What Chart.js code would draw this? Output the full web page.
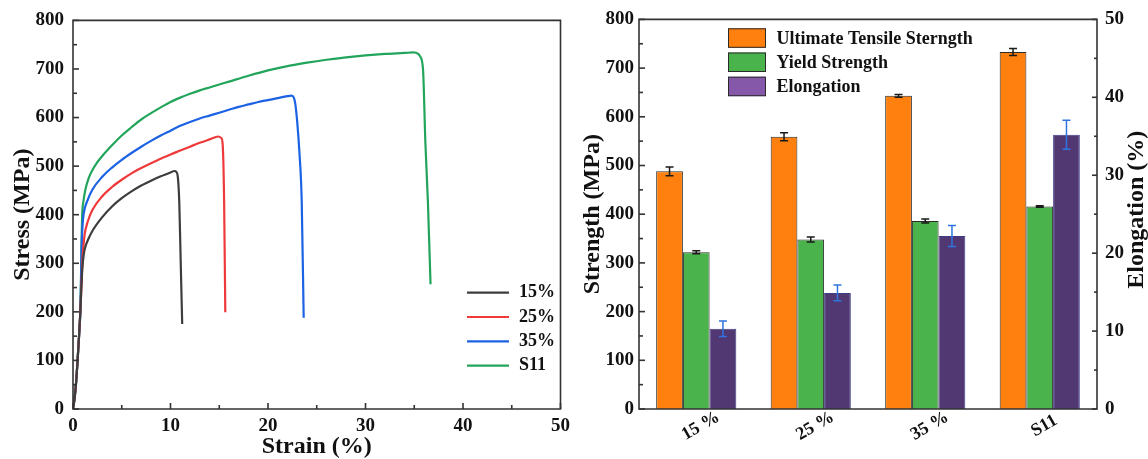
<!DOCTYPE html>
<html>
<head>
<meta charset="utf-8">
<script src="https://cdn.jsdelivr.net/npm/chart.js@4.4.1/dist/chart.umd.min.js"></script>
<style>
  html, body { margin: 0; padding: 0; background: #ffffff; width: 1148px; height: 459px; overflow: hidden; }
  #wrapL { position: absolute; left: 0; top: 0; width: 576px; height: 459px; }
  #wrapR { position: absolute; left: 575px; top: 0; width: 573px; height: 459px; }
</style>
</head>
<body>
<div id="wrapL"><canvas id="curves" width="576" height="459"></canvas></div>
<div id="wrapR"><canvas id="bars" width="573" height="459"></canvas></div>
<script>
// ---------- Stress–strain curves ----------
const strain15 = [0, 0.15, 0.3, 0.47, 0.62, 0.75, 0.86, 0.96, 1.1, 1.3, 1.6, 2, 3, 4, 5, 6, 7, 8, 9, 10, 10.4, 10.6, 10.75, 10.9, 11.05, 11.2];
const stress15 = [0, 20, 50, 100, 150, 200, 250, 290, 318, 336, 351, 367, 395, 417, 434, 448, 460, 470, 479, 487, 490, 488, 478, 426, 300, 175];

const strain25 = [0, 0.15, 0.3, 0.47, 0.62, 0.75, 0.86, 0.95, 1.05, 1.2, 1.5, 2, 3, 4, 5, 6, 7, 8, 9, 10, 11, 12, 13, 14, 14.9, 15.2, 15.35, 15.5, 15.62];
const stress25 = [0, 20, 50, 100, 150, 200, 250, 300, 330, 360, 385, 410, 438, 457, 472, 485, 496, 506, 515, 524, 532, 540, 548, 555, 561, 558, 545, 426, 199];

const strain35 = [0, 0.15, 0.3, 0.47, 0.62, 0.75, 0.82, 0.88, 0.97, 1.08, 1.5, 2, 3, 4, 5, 6, 7, 8, 9, 10, 11, 12, 13, 14, 15, 16, 17, 18, 19, 20, 21, 22, 22.4, 22.65, 22.8, 23.0, 23.22, 23.46, 23.66];
const stress35 = [0, 20, 50, 100, 150, 200, 260, 330, 375, 400, 430, 452, 478, 497, 513, 527, 540, 552, 563, 573, 583, 591, 598, 604, 610, 616, 622, 627, 632, 636, 640, 644, 645, 641, 628, 590, 529, 426, 188];

const strainS11 = [0, 0.15, 0.3, 0.47, 0.62, 0.75, 0.82, 0.88, 0.94, 1.05, 1.25, 1.6, 2, 2.5, 3, 4, 5, 6, 7, 8, 9, 10, 11, 12, 13, 14, 15, 16, 18, 20, 22, 24, 26, 28, 30, 32, 34, 34.9, 35.4, 35.6, 35.9, 36.14, 36.4, 36.67];
const stressS11 = [0, 20, 50, 100, 150, 200, 270, 350, 400, 425, 450, 475, 492, 508, 521, 543, 563, 580, 596, 609, 621, 632, 641, 649, 656, 662, 668, 674, 686, 697, 706, 713, 719, 724, 728, 731, 733, 734, 731, 726, 699, 549, 427, 257];

const curveNames = ['15%', '25%', '35%', 'S11'];
const strainTicks = [0, 10, 20, 30, 40, 50];
const stressTicks = [0, 100, 200, 300, 400, 500, 600, 700, 800];

// ---------- Strength / elongation summary ----------
const groups = ['15 %', '25 %', '35 %', 'S11'];
const seriesNames = ['Ultimate Tensile Sterngth', 'Yield Strength', 'Elongation'];
const uts = [488, 559, 643, 733];
const utsErr = [9, 8, 3, 7];
const ys = [322, 348, 386, 416];
const ysErr = [3, 5, 4, 1.5];
const elong = [10.3, 14.9, 22.2, 35.2];
const elongErr = [1.0, 1.0, 1.35, 1.85];
const strengthTicks = [0, 100, 200, 300, 400, 500, 600, 700, 800];
const elongTicks = [0, 10, 20, 30, 40, 50];

const SERIF = "'Liberation Serif', 'Times New Roman', serif";
const tickFont = { family: SERIF, size: 19, weight: 'bold' };
const titleFont = { family: SERIF, size: 24, weight: 'bold', lineHeight: 1 };
Chart.defaults.color = '#111111';
Chart.defaults.font.family = SERIF;

const pairs = (xs, ys) => xs.map((x, i) => ({ x, y: ys[i] }));
const fixTicks = list => scale => { scale.ticks = list.map(v => ({ value: v })); };

// Box frame plus inward major/minor tick marks
const frameTicks = {
  id: 'frameTicks',
  afterDraw(chart, args, o) {
    const { ctx, chartArea: a } = chart;
    ctx.save();
    ctx.strokeStyle = o.color;
    ctx.lineWidth = o.width;
    ctx.beginPath();
    ctx.rect(a.left, a.top, a.right - a.left, a.bottom - a.top);
    ctx.stroke();
    for (const spec of o.axes) {
      const s = chart.scales[spec.id];
      const vals = s.ticks.map(t => t.value);
      const minors = [];
      for (let i = 0; i + 1 < vals.length; i++) minors.push((vals[i] + vals[i + 1]) / 2);
      const mark = (list, len) => {
        list.forEach(v => {
          const p = s.getPixelForValue(v);
          ctx.beginPath();
          if (spec.side === 'bottom') { ctx.moveTo(p, a.bottom); ctx.lineTo(p, a.bottom - len); }
          else if (spec.side === 'left') { ctx.moveTo(a.left, p); ctx.lineTo(a.left + len, p); }
          else { ctx.moveTo(a.right, p); ctx.lineTo(a.right - len, p); }
          ctx.stroke();
        });
      };
      mark(vals, spec.major);
      mark(minors, spec.minor);
    }
    ctx.restore();
  }
};

// Line-sample key for the curves
const lineKey = {
  id: 'lineKey',
  afterDraw(chart, args, o) {
    if (!o.enabled) return;
    const { ctx } = chart;
    ctx.save();
    ctx.font = `bold ${o.size}px ${SERIF}`;
    ctx.textBaseline = 'middle';
    ctx.textAlign = 'left';
    chart.data.datasets.forEach((ds, i) => {
      const y = o.y + i * o.gap;
      ctx.strokeStyle = ds.borderColor;
      ctx.lineWidth = 2.2;
      ctx.beginPath();
      ctx.moveTo(o.x, y);
      ctx.lineTo(o.x + o.len, y);
      ctx.stroke();
      ctx.fillStyle = '#111';
      ctx.fillText(ds.label, o.x + o.len + o.textGap, y);
    });
    ctx.restore();
  }
};

// Filled-box key for the bars
const boxKey = {
  id: 'boxKey',
  afterDraw(chart, args, o) {
    if (!o.enabled) return;
    const { ctx } = chart;
    ctx.save();
    ctx.font = `bold ${o.size}px ${SERIF}`;
    ctx.textBaseline = 'middle';
    ctx.textAlign = 'left';
    chart.data.datasets.forEach((ds, i) => {
      const top = o.y + i * o.gap;
      ctx.fillStyle = o.fills[i];
      ctx.fillRect(o.x, top, o.w, o.h);
      ctx.strokeStyle = '#2b2b2b';
      ctx.lineWidth = 1;
      ctx.strokeRect(o.x + 0.5, top + 0.5, o.w - 1, o.h - 1);
      ctx.fillStyle = '#111';
      ctx.fillText(ds.label, o.x + o.w + o.textGap, top + o.h / 2 + 1);
    });
    ctx.restore();
  }
};

// Error bars taken from each dataset's errors array
const errorBars = {
  id: 'errorBars',
  afterDatasetsDraw(chart, args, o) {
    if (!o.enabled) return;
    const { ctx } = chart;
    ctx.save();
    ctx.lineWidth = 1.5;
    chart.data.datasets.forEach((ds, di) => {
      const meta = chart.getDatasetMeta(di);
      const sc = chart.scales[ds.yAxisID];
      ctx.strokeStyle = ds.errorColor;
      meta.data.forEach((bar, i) => {
        const v = ds.data[i], e = ds.errors[i];
        const yT = sc.getPixelForValue(v + e), yB = sc.getPixelForValue(v - e);
        const x = bar.x, c = o.cap;
        ctx.beginPath();
        ctx.moveTo(x, yT); ctx.lineTo(x, yB);
        ctx.moveTo(x - c, yT); ctx.lineTo(x + c, yT);
        ctx.moveTo(x - c, yB); ctx.lineTo(x + c, yB);
        ctx.stroke();
      });
    });
    ctx.restore();
  }
};

// Slanted category labels under the groups
const groupLabels = {
  id: 'groupLabels',
  afterDraw(chart, args, o) {
    if (!o.enabled) return;
    const { ctx } = chart;
    const s = chart.scales.x;
    ctx.save();
    ctx.font = `bold ${o.size}px ${SERIF}`;
    ctx.fillStyle = '#111';
    ctx.textAlign = 'center';
    ctx.textBaseline = 'middle';
    chart.data.labels.forEach((lab, i) => {
      ctx.save();
      ctx.translate(s.getPixelForTick(i) + o.dx, chart.chartArea.bottom + o.dy);
      ctx.rotate(-o.angle * Math.PI / 180);
      ctx.fillText(lab, 0, 0);
      ctx.restore();
    });
    ctx.restore();
  }
};

// Right-hand axis title, read bottom to top
const sideTitle = {
  id: 'sideTitle',
  afterDraw(chart, args, o) {
    if (!o.enabled) return;
    const { ctx } = chart;
    const s = chart.scales[o.axis];
    ctx.save();
    ctx.font = `bold ${o.size}px ${SERIF}`;
    ctx.fillStyle = '#111';
    ctx.textAlign = 'center';
    ctx.textBaseline = 'middle';
    ctx.translate(s.right - o.inset, (chart.chartArea.top + chart.chartArea.bottom) / 2 + o.shift);
    ctx.rotate(-Math.PI / 2);
    ctx.fillText(o.text, 0, 0);
    ctx.restore();
  }
};

Chart.register(frameTicks, lineKey, boxKey, errorBars, groupLabels, sideTitle);

const lineStyle = c => ({ borderColor: c, backgroundColor: c, borderWidth: 2.2, pointRadius: 0, cubicInterpolationMode: 'monotone', fill: false });
const plainGrid = { display: false, drawTicks: false };

new Chart(document.getElementById('curves'), {
  type: 'line',
  data: {
    datasets: [
      { label: curveNames[0], data: pairs(strain15, stress15), ...lineStyle('#3d3d3d') },
      { label: curveNames[1], data: pairs(strain25, stress25), ...lineStyle('#ee3a3a') },
      { label: curveNames[2], data: pairs(strain35, stress35), ...lineStyle('#1c62e4') },
      { label: curveNames[3], data: pairs(strainS11, stressS11), ...lineStyle('#22a55b') }
    ]
  },
  options: {
    responsive: false,
    devicePixelRatio: 1,
    animation: false,
    layout: { padding: { left: 0, top: 17, right: 10, bottom: 0 } },
    plugins: {
      legend: { display: false },
      tooltip: { enabled: false },
      frameTicks: {
        color: '#333', width: 1.6,
        axes: [ { id: 'x', side: 'bottom', major: 6, minor: 4 }, { id: 'y', side: 'left', major: 6, minor: 4 } ]
      },
      lineKey: { enabled: true, x: 467, y: 292.7, gap: 24.3, len: 42, textGap: 10, size: 18 }
    },
    scales: {
      x: {
        type: 'linear', min: 0, max: 50,
        afterBuildTicks: fixTicks(strainTicks),
        afterFit: s => { s.height = 50; },
        grid: plainGrid, border: { display: false },
        ticks: { font: tickFont, padding: 6, maxRotation: 0 },
        title: { display: true, text: 'Strain (%)', font: titleFont, padding: { top: 0, bottom: 0 } }
      },
      y: {
        type: 'linear', min: 0, max: 800,
        afterBuildTicks: fixTicks(stressTicks),
        afterFit: s => { s.width = 73; },
        grid: plainGrid, border: { display: false },
        ticks: { font: tickFont, padding: 9 },
        title: { display: true, text: 'Stress (MPa)', font: titleFont, padding: { top: 11, bottom: 0 } }
      }
    }
  }
});

new Chart(document.getElementById('bars'), {
  type: 'bar',
  data: {
    labels: groups,
    datasets: [
      { label: seriesNames[0], data: uts, errors: utsErr, yAxisID: 'y', backgroundColor: '#ff800e', borderColor: '#2b2b2b', borderWidth: 1, errorColor: '#1a1a1a' },
      { label: seriesNames[1], data: ys, errors: ysErr, yAxisID: 'y', backgroundColor: '#4bb34b', borderColor: '#2b2b2b', borderWidth: 1, errorColor: '#1a1a1a' },
      { label: seriesNames[2], data: elong, errors: elongErr, yAxisID: 'y1', backgroundColor: '#513873', borderColor: '#3d3d86', borderWidth: 1, errorColor: '#2f74e0' }
    ]
  },
  options: {
    responsive: false,
    devicePixelRatio: 1,
    animation: false,
    layout: { padding: { left: 0, top: 17, right: 0, bottom: 0 } },
    datasets: { bar: { categoryPercentage: 0.7, barPercentage: 1.0 } },
    plugins: {
      legend: { display: false },
      tooltip: { enabled: false },
      frameTicks: {
        color: '#333', width: 1.6,
        axes: [ { id: 'y', side: 'left', major: 6, minor: 4 }, { id: 'y1', side: 'right', major: 5, minor: 3 } ]
      },
      boxKey: { enabled: true, x: 153, y: 28.3, gap: 24.2, w: 38, h: 19.5, textGap: 10.5, size: 18, fills: ['#ff800e', '#4bb34b', '#8658a9'] },
      errorBars: { enabled: true, cap: 4 },
      groupLabels: { enabled: true, dx: 4.5, dy: 17, angle: 30, size: 18 },
      sideTitle: { enabled: true, axis: 'y1', text: 'Elongation (%)', size: 24, inset: 11, shift: -4.5 }
    },
    scales: {
      x: {
        afterFit: s => { s.height = 50; },
        grid: plainGrid, border: { display: false },
        ticks: { display: false }
      },
      y: {
        type: 'linear', position: 'left', min: 0, max: 800,
        afterBuildTicks: fixTicks(strengthTicks),
        afterFit: s => { s.width = 64; },
        grid: plainGrid, border: { display: false },
        ticks: { font: tickFont, padding: 5 },
        title: { display: true, text: 'Strength (MPa)', font: titleFont, padding: { top: 6, bottom: 0 } }
      },
      y1: {
        type: 'linear', position: 'right', min: 0, max: 50,
        afterBuildTicks: fixTicks(elongTicks),
        afterFit: s => { s.width = 51; },
        grid: plainGrid, border: { display: false },
        ticks: { font: tickFont, padding: 8 }
      }
    }
  }
});
</script>
</body>
</html>
